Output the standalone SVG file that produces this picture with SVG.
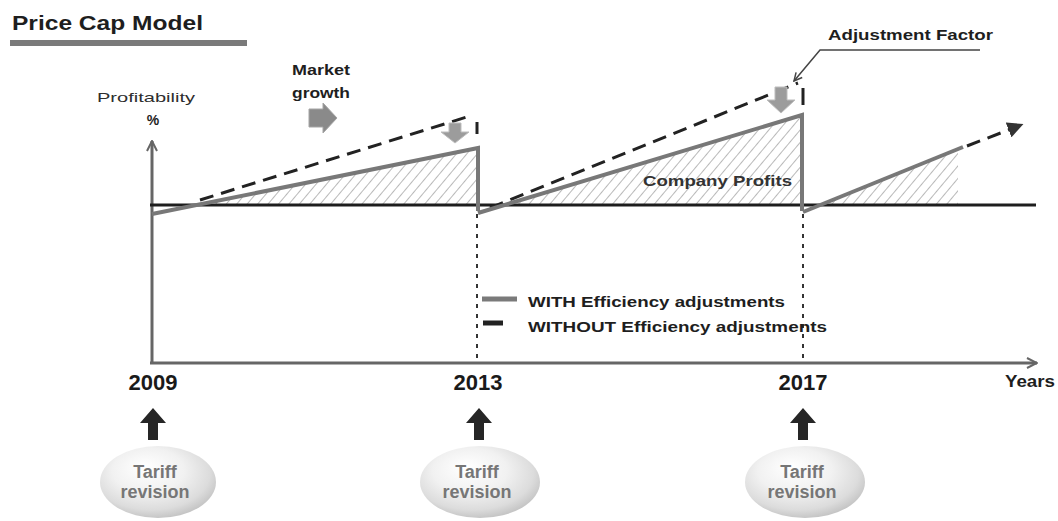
<svg xmlns="http://www.w3.org/2000/svg" width="1058" height="521" viewBox="0 0 1058 521">
  <defs>
    <style>
      .lbl { font-family: "Liberation Sans", Arial, sans-serif; font-weight: bold; fill: #1e1e1e; }
      .reg { font-family: "Liberation Sans", Arial, sans-serif; fill: #2e2e2e; }
      .tariff { font-family: "Liberation Sans", Arial, sans-serif; font-weight: bold; font-size: 18px; fill: #767676; text-anchor: middle; }
      .year { font-family: "Liberation Sans", Arial, sans-serif; font-weight: bold; font-size: 22px; fill: #1a1a1a; text-anchor: middle; }
      .axis { stroke: #666; stroke-width: 3; fill: none; }
      .zero { stroke: #1e1e1e; stroke-width: 3; fill: none; }
      .with { stroke: #787878; stroke-width: 4; fill: none; stroke-linejoin: miter; }
      .without { stroke: #222; stroke-width: 3; fill: none; stroke-dasharray: 14 8; }
      .guide { stroke: #333; stroke-width: 2; fill: none; stroke-dasharray: 4 6; }
      .tick { stroke: #222; stroke-width: 3; fill: none; }
      .drop { fill: #9c9c9c; stroke: #bdbdbd; stroke-width: 1; }
      .uparrow { fill: #262626; }
    </style>
    <pattern id="hatch" patternUnits="userSpaceOnUse" width="8" height="8" patternTransform="rotate(40)">
      <line x1="0" y1="0" x2="0" y2="8" stroke="#9a9a9a" stroke-width="1.4"/>
    </pattern>
    <radialGradient id="bubble" cx="45%" cy="40%" r="62%" fx="38%" fy="28%">
      <stop offset="0" stop-color="#ffffff"/>
      <stop offset="0.5" stop-color="#f1f1f1"/>
      <stop offset="0.82" stop-color="#dcdcdc"/>
      <stop offset="1" stop-color="#c2c2c2"/>
    </radialGradient>
    <marker id="openHead" viewBox="0 0 12 12" refX="11" refY="6" markerWidth="12" markerHeight="12" markerUnits="userSpaceOnUse" orient="auto">
      <path d="M1,1 L11,6 L1,11" fill="none" stroke="#666" stroke-width="2"/>
    </marker>
    <marker id="solidHead" viewBox="0 0 12 12" refX="6" refY="6" markerWidth="16" markerHeight="16" markerUnits="userSpaceOnUse" orient="auto">
      <path d="M0,0 L12,6 L0,12 Z" fill="#333"/>
    </marker>
    <marker id="leaderHead" viewBox="0 0 10 10" refX="9" refY="5" markerWidth="10" markerHeight="10" markerUnits="userSpaceOnUse" orient="auto">
      <path d="M1,1 L9,5 L1,9" fill="none" stroke="#444" stroke-width="1.5"/>
    </marker>
  </defs>

  <rect width="1058" height="521" fill="#ffffff"/>

  <!-- heading -->
  <g id="title">
    <text class="lbl" x="12" y="30" font-size="21" textLength="191" lengthAdjust="spacingAndGlyphs">Price Cap Model</text>
    <rect x="10" y="40" width="237" height="6" fill="#7a7a7a"/>
  </g>

  <!-- axis labels -->
  <g id="y-label">
    <text class="reg" x="146" y="102" font-size="13" text-anchor="middle" textLength="98" lengthAdjust="spacingAndGlyphs">Profitability</text>
    <text class="lbl" x="153" y="125" font-size="14" text-anchor="middle">%</text>
  </g>
  <g id="x-label">
    <text class="lbl" x="1005" y="387" font-size="16" textLength="50" lengthAdjust="spacingAndGlyphs">Years</text>
  </g>

  <!-- market growth hint -->
  <g id="market-growth">
    <text class="lbl" x="321" y="75" font-size="15" text-anchor="middle" textLength="58" lengthAdjust="spacingAndGlyphs">Market</text>
    <text class="lbl" x="321" y="98" font-size="15" text-anchor="middle" textLength="58" lengthAdjust="spacingAndGlyphs">growth</text>
    <path d="M309,109 L323,109 L323,103 L337,118 L323,133 L323,127 L309,127 Z" fill="#8a8a8a" stroke="#a5a5a5" stroke-width="1"/>
  </g>

  <!-- profit areas -->
  <g id="profit-areas">
    <polygon points="192,205 476,149 476,205" fill="url(#hatch)"/>
    <polygon points="504,205 800,116 800,205" fill="url(#hatch)"/>
    <polygon points="820,205 958,149 958,205" fill="url(#hatch)"/>
  </g>

  <g id="company-profits-label">
    <text class="lbl" x="643" y="186" font-size="15" textLength="149" lengthAdjust="spacingAndGlyphs" style="fill:#333">Company Profits</text>
  </g>

  <!-- axes, baseline and curves -->
  <g id="connectors">
    <line class="axis" x1="152" y1="363" x2="152" y2="141" marker-end="url(#openHead)"/>
    <line class="axis" x1="150" y1="363" x2="1037" y2="363" marker-end="url(#openHead)"/>
    <line class="zero" x1="150" y1="205" x2="1036" y2="205"/>

    <!-- revision guides -->
    <line class="guide" x1="477" y1="214" x2="477" y2="362"/>
    <line class="guide" x1="803" y1="214" x2="803" y2="362"/>

    <!-- profit without efficiency adjustments -->
    <line class="without" x1="200" y1="200" x2="470" y2="116"/>
    <line class="without" x1="490" y1="208" x2="798" y2="83"/>
    <line class="tick" x1="477" y1="122" x2="477" y2="134"/>
    <line class="tick" x1="803" y1="88" x2="803" y2="105"/>

    <!-- profit with efficiency adjustments -->
    <polyline class="with" points="152,214 478,148 478,211"/>
    <polyline class="with" points="478,213 802,115 802,211"/>
    <polyline class="with" points="803,212 963,147"/>
    <line class="without" x1="967" y1="146" x2="1016" y2="127" marker-end="url(#solidHead)" stroke-dasharray="14 9"/>

    <!-- adjustment drops -->
    <path class="drop" d="M449,123 L461,123 L461,132 L469,132 L455,143 L441,132 L449,132 Z"/>
    <path class="drop" d="M775,87 L787,87 L787,100 L795,100 L781,113 L767,100 L775,100 Z"/>

    <!-- adjustment factor leader -->
    <polyline points="980,50 820,50 794,81" fill="none" stroke="#444" stroke-width="1.5" marker-end="url(#leaderHead)"/>

    <!-- revision arrows -->
    <path class="uparrow" d="M148,440 L158,440 L158,423 L166,423 L153,408 L140,423 L148,423 Z"/>
    <path class="uparrow" d="M474,440 L484,440 L484,423 L492,423 L479,408 L466,423 L474,423 Z"/>
    <path class="uparrow" d="M798,440 L808,440 L808,423 L816,423 L803,408 L790,423 L798,423 Z"/>
  </g>

  <g id="adjustment-factor">
    <text class="lbl" x="828" y="40" font-size="15" textLength="165" lengthAdjust="spacingAndGlyphs">Adjustment Factor</text>
  </g>

  <!-- legend -->
  <g id="legend">
    <line x1="482" y1="299" x2="517" y2="299" stroke="#7a7a7a" stroke-width="5"/>
    <text class="lbl" x="528" y="307" font-size="15" textLength="257" lengthAdjust="spacingAndGlyphs">WITH Efficiency adjustments</text>
    <line x1="483" y1="323" x2="503" y2="323" stroke="#222" stroke-width="5"/>
    <text class="lbl" x="528" y="332" font-size="15" textLength="299" lengthAdjust="spacingAndGlyphs">WITHOUT Efficiency adjustments</text>
  </g>

  <!-- years -->
  <g id="year-2009"><text class="year" x="153" y="390">2009</text></g>
  <g id="year-2013"><text class="year" x="478" y="390">2013</text></g>
  <g id="year-2017"><text class="year" x="803" y="390">2017</text></g>

  <!-- tariff revision bubbles -->
  <g id="revision-2009">
    <ellipse cx="158" cy="482" rx="58" ry="36" fill="url(#bubble)"/>
    <text class="tariff" x="155" y="478">Tariff</text>
    <text class="tariff" x="155" y="498">revision</text>
  </g>
  <g id="revision-2013">
    <ellipse cx="480" cy="482" rx="60" ry="36" fill="url(#bubble)"/>
    <text class="tariff" x="477" y="478">Tariff</text>
    <text class="tariff" x="477" y="498">revision</text>
  </g>
  <g id="revision-2017">
    <ellipse cx="805" cy="482" rx="60" ry="36" fill="url(#bubble)"/>
    <text class="tariff" x="802" y="478">Tariff</text>
    <text class="tariff" x="802" y="498">revision</text>
  </g>
</svg>
